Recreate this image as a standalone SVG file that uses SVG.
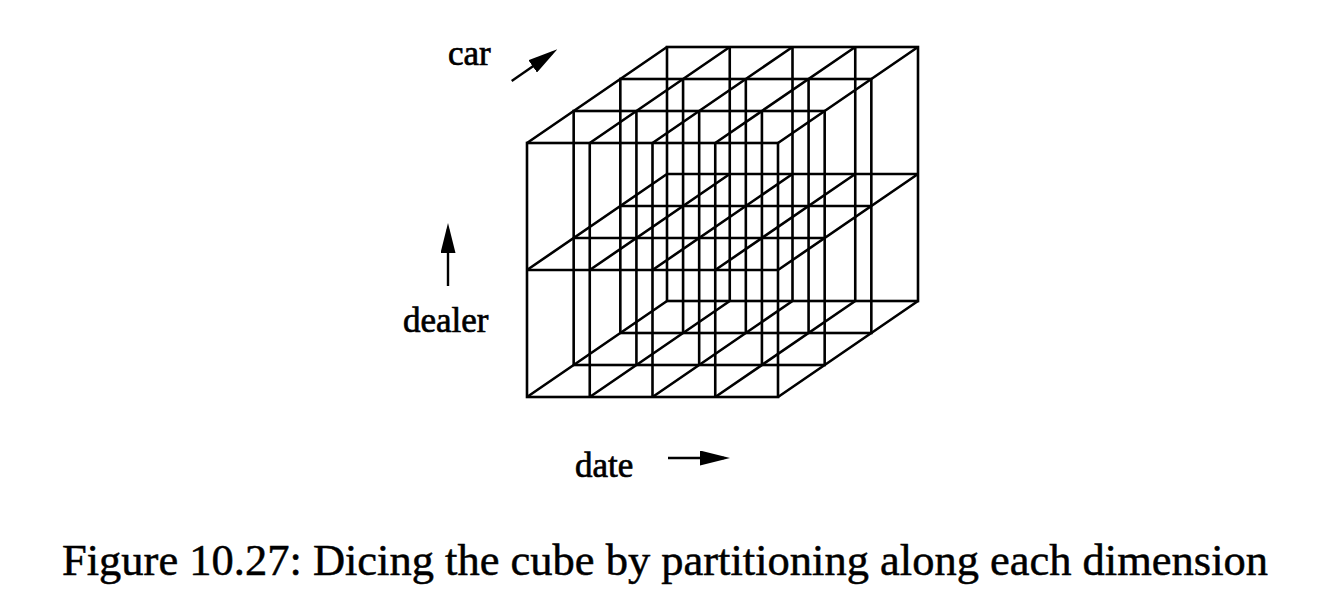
<svg xmlns="http://www.w3.org/2000/svg" xmlns:xlink="http://www.w3.org/1999/xlink" width="1328" height="604" viewBox="0 0 1328 604">
  <style>
    .grid { fill: none; stroke: #000; stroke-width: 2.6; stroke-linejoin: miter; }
    .arrow { fill: none; stroke: #000; stroke-width: 2.4; }
    .label { font-family: "Liberation Serif", "Times New Roman", serif; font-size: 35px; fill: #000; stroke: #000; stroke-width: 0.7px; }
    .caption { font-family: "Liberation Serif", "Times New Roman", serif; font-size: 44px; fill: #000; stroke: #000; stroke-width: 0.5px; }
  </style>
  <defs>
    <marker id="ah" markerWidth="30" markerHeight="15" refX="24" refY="7.5" orient="auto" markerUnits="userSpaceOnUse">
      <path d="M0,0 L30,7.5 L0,15 Z" fill="#000"/>
    </marker>
    <g id="plane">
      <rect x="527" y="143" width="251" height="254"/>
      <path d="M589.75 143 V397 M652.5 143 V397 M715.25 143 V397 M527 270 H778"/>
    </g>
  </defs>
  <rect width="1328" height="604" fill="#fff"/>

  <g id="cube" class="grid">
    <use xlink:href="#plane" href="#plane" transform="translate(140,-96)"/>
    <use xlink:href="#plane" href="#plane" transform="translate(93.33,-64)"/>
    <use xlink:href="#plane" href="#plane" transform="translate(46.67,-32)"/>
    <use xlink:href="#plane" href="#plane"/>
    <path d="M527 143 l140 -96 M589.75 143 l140 -96 M652.5 143 l140 -96 M715.25 143 l140 -96 M778 143 l140 -96
             M527 270 l140 -96 M589.75 270 l140 -96 M652.5 270 l140 -96 M715.25 270 l140 -96 M778 270 l140 -96
             M527 397 l140 -96 M589.75 397 l140 -96 M652.5 397 l140 -96 M715.25 397 l140 -96 M778 397 l140 -96"/>
  </g>

  <g id="connectors" class="arrow">
    <line id="car-arrow" x1="511.7" y1="81" x2="552.4" y2="52.7" marker-end="url(#ah)"/>
    <line id="dealer-arrow" x1="448" y1="286" x2="448" y2="229" marker-end="url(#ah)"/>
    <line id="date-arrow" x1="668" y1="458" x2="724" y2="458" marker-end="url(#ah)"/>
  </g>

  <g id="label-car"><text class="label" x="448" y="65">car</text></g>
  <g id="label-dealer"><text class="label" x="403" y="332">dealer</text></g>
  <g id="label-date"><text class="label" x="575" y="477">date</text></g>

  <g id="caption">
    <text class="caption" x="62" y="575" textLength="1206" lengthAdjust="spacingAndGlyphs">Figure 10.27: Dicing the cube by partitioning along each dimension</text>
  </g>
</svg>
